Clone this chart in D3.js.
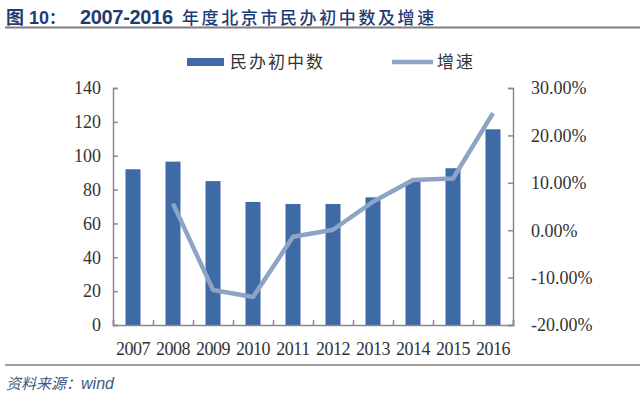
<!DOCTYPE html>
<html>
<head>
<meta charset="utf-8">
<script src="https://cdn.jsdelivr.net/npm/d3@7"></script>
<style>
  body { margin: 0; background: #fff; }
  svg { display: block; }
</style>
</head>
<body>
<div id="chart"></div>
<script>
const years = ['2007', '2008', '2009', '2010', '2011', '2012', '2013', '2014', '2015', '2016'];
const schools = [92, 96.5, 85, 72.7, 71.5, 71.5, 75.4, 84.7, 92.6, 115.6];
const growth = [null, 0.056, -0.126, -0.141, -0.014, 0.001, 0.06, 0.106, 0.109, 0.247];
const leftTicks = [0, 20, 40, 60, 80, 100, 120, 140];
const rightTicks = [-0.2, -0.1, 0, 0.1, 0.2, 0.3];

const width = 640, height = 397;
const margin = { top: 88, right: 127, bottom: 72, left: 113 };
const w = width - margin.left - margin.right;
const h = height - margin.top - margin.bottom;

const barColor = '#3e6aa6';
const lineColor = '#8ea3c6';
const axisColor = '#8a8a8a';
const serif = '"Liberation Serif", "DejaVu Serif", serif';
const cjk = '"Noto Sans CJK SC", sans-serif';
const sans = '"Liberation Sans", Arial, sans-serif';

const svg = d3.select('#chart').append('svg')
  .attr('width', width)
  .attr('height', height);

// title
const title = svg.append('text')
  .attr('y', 24)
  .attr('fill', '#1f3c70')
  .style('font-family', sans)
  .style('font-weight', 'bold')
  .style('font-size', '20px');
title.append('tspan').attr('x', 6).style('font-family', cjk).style('font-size', '18px').text('图');
title.append('tspan').style('font-size', '18px').text(' 10');
title.append('tspan').style('font-family', cjk).style('font-size', '16px').text('：');
title.append('tspan').attr('x', 80).attr('textLength', 93).text('2007-2016');
title.append('tspan').attr('x', 182)
  .style('font-family', cjk).style('font-size', '17px').style('font-weight', '500')
  .style('letter-spacing', '2.6px')
  .text('年度北京市民办初中数及增速');

svg.append('line')
  .attr('x1', 5).attr('x2', 640)
  .attr('y1', 27.5).attr('y2', 27.5)
  .attr('stroke', '#7f7f7f').attr('stroke-width', 2);

svg.append('line')
  .attr('x1', 5).attr('x2', 640)
  .attr('y1', 365).attr('y2', 365)
  .attr('stroke', '#7f7f7f').attr('stroke-width', 1.5);

svg.append('text')
  .attr('x', 6).attr('y', 389)
  .attr('fill', '#3b5a86')
  .style('font-size', '15px')
  .style('font-style', 'italic')
  .call(t => {
    t.append('tspan').style('font-family', cjk).text('资料来源：');
    t.append('tspan').style('font-family', sans).style('font-size', '16px').text('wind');
  });

const g = svg.append('g').attr('transform', `translate(${margin.left},${margin.top})`);

const xc = d3.scalePoint().domain(years).range([0, w]).padding(0.5);
const y = d3.scaleLinear().domain([0, 140]).range([h, 0]);
const y2 = d3.scaleLinear().domain([-0.2, 0.3]).range([h, 0]);

// bars
g.selectAll('.bar')
  .data(years)
  .enter()
  .append('rect')
  .attr('class', 'bar')
  .attr('x', d => xc(d) - 7.5)
  .attr('width', 15)
  .attr('y', (d, i) => y(schools[i]))
  .attr('height', (d, i) => h - y(schools[i]))
  .attr('fill', barColor);

// axes
const leftAxis = g.append('g')
  .call(d3.axisRight(y).tickValues(leftTicks).tickSize(5).tickFormat(''));
const rightAxis = g.append('g').attr('transform', `translate(${w},0)`)
  .call(d3.axisLeft(y2).tickValues(rightTicks).tickSize(5).tickFormat(''));
const bottomAxis = g.append('g').attr('transform', `translate(0,${h})`)
  .call(d3.axisTop(d3.scaleLinear().domain([0, years.length]).range([0, w]))
    .tickValues(d3.range(0, years.length + 1)).tickSize(5).tickFormat(''));

[leftAxis, rightAxis, bottomAxis].forEach(a => {
  a.selectAll('path').attr('stroke', axisColor).attr('stroke-width', 1.5);
  a.selectAll('line').attr('stroke', axisColor).attr('stroke-width', 1.5);
});

// tick labels
g.selectAll('.ly')
  .data(leftTicks)
  .enter()
  .append('text')
  .attr('x', -12)
  .attr('y', d => y(d))
  .attr('dy', '0.35em')
  .attr('text-anchor', 'end')
  .attr('fill', '#333')
  .style('font-family', serif)
  .style('font-size', '18px')
  .text(d => d);

g.selectAll('.ry')
  .data(rightTicks)
  .enter()
  .append('text')
  .attr('x', w + 18)
  .attr('y', d => y2(d))
  .attr('dy', '0.35em')
  .attr('fill', '#333')
  .style('font-family', serif)
  .style('font-size', '18px')
  .text(d => (d * 100).toFixed(2) + '%');

g.selectAll('.xl')
  .data(years)
  .enter()
  .append('text')
  .attr('x', d => xc(d))
  .attr('y', h + 30)
  .attr('text-anchor', 'middle')
  .attr('fill', '#333')
  .style('font-family', serif)
  .style('font-size', '18px')
  .style('letter-spacing', '-0.5px')
  .text(d => d);

// growth line
const line = d3.line()
  .defined(d => d[1] !== null)
  .x(d => xc(d[0]))
  .y(d => y2(d[1]));

g.append('path')
  .datum(years.map((d, i) => [d, growth[i]]))
  .attr('fill', 'none')
  .attr('stroke', lineColor)
  .attr('stroke-width', 4.5)
  .attr('stroke-linejoin', 'round')
  .attr('d', line);

// legend
svg.append('rect')
  .attr('x', 187).attr('y', 58)
  .attr('width', 37).attr('height', 8)
  .attr('fill', barColor);
svg.append('text')
  .attr('x', 230).attr('y', 68)
  .attr('fill', '#333')
  .style('font-family', cjk)
  .style('font-size', '17px')
  .style('letter-spacing', '2px')
  .text('民办初中数');
svg.append('line')
  .attr('x1', 392).attr('x2', 433)
  .attr('y1', 62).attr('y2', 62)
  .attr('stroke', lineColor)
  .attr('stroke-width', 4.5);
svg.append('text')
  .attr('x', 437).attr('y', 68)
  .attr('fill', '#333')
  .style('font-family', cjk)
  .style('font-size', '17px')
  .style('letter-spacing', '2px')
  .text('增速');
</script>
</body>
</html>
